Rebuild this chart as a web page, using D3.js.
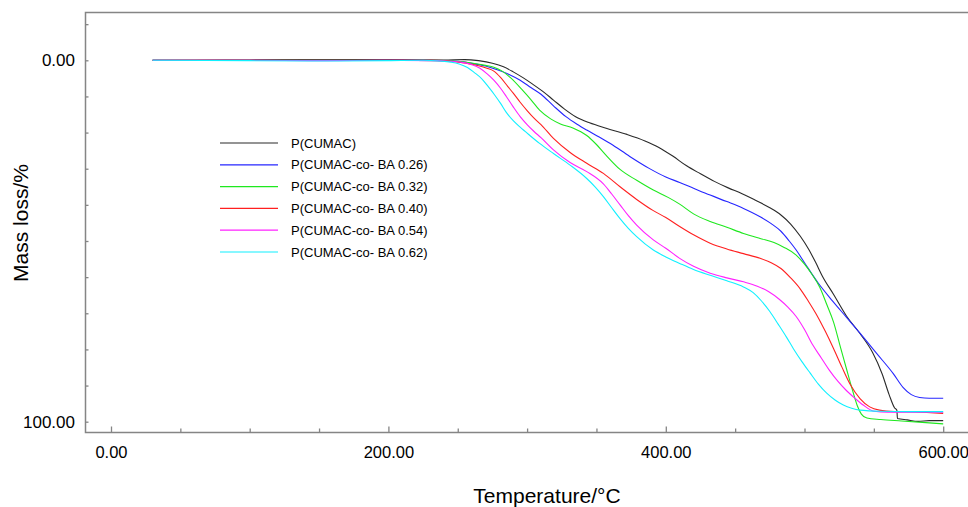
<!DOCTYPE html>
<html>
<head>
<meta charset="utf-8">
<script src="https://cdn.jsdelivr.net/npm/d3@7"></script>
<style>
  body { margin: 0; background: #fff; }
  text { font-family: "Liberation Sans", Arial, sans-serif; fill: #000; }
</style>
</head>
<body>
<div id="chart"></div>
<script>
// TGA curves: [temperature °C, mass loss %]
const seriesNames = ["P(CUMAC)", "P(CUMAC-co- BA 0.26)", "P(CUMAC-co- BA 0.32)",
  "P(CUMAC-co- BA 0.40)", "P(CUMAC-co- BA 0.54)", "P(CUMAC-co- BA 0.62)"];
const seriesColors = ["#2a2a2a", "#2626ff", "#1fe81f", "#ff2020", "#ff22ff", "#10f0ff"];

const cumac = [[30,0],[60,0],[100,-0.1],[150,-0.2],[200,-0.2],[240,-0.1],[255,-0.2],[265,0.1],[275,0.8],
  [283,1.8],[290,3.2],[297,4.8],[304,6.6],[312,8.8],[319,11.0],[327,13.5],[335,15.6],[345,17.3],[357,18.8],
  [372,20.5],[385,22.3],[395,24.1],[405,26.5],[415,29.2],[425,31.4],[435,33.5],[445,35.3],[455,36.9],
  [465,38.8],[475,40.8],[483,42.8],[490,45.3],[497,48.7],[503,52.3],[508,55.9],[513,59.8],[521,64.8],
  [530,70.6],[540,75.6],[549,80.8],[556,86.8],[561,92.5],[565,96.2],[566.6,96.8],[567,99.1],[574,99.5],
  [582,99.9],[590,99.7],[600,99.7]];
const ba026 = [[30,0],[100,0],[150,0],[200,0],[240,0.1],[250,0.3],[261,0.9],[270,1.6],[279,2.7],[287,3.9],
  [295,5.5],[303,7.6],[310,9.4],[319,12.6],[328,15.6],[336,17.7],[343,19.3],[352,21.2],[360,23.0],[374,26.6],
  [388,29.9],[400,32.3],[410,33.8],[420,35.4],[432,37.3],[444,39.1],[456,41.0],[468,43.3],[476,45.2],
  [483,47.3],[489,50.0],[494,52.5],[500,56.0],[510,61.7],[520,66.5],[530,71.0],[540,75.5],[552,81.1],
  [564,86.7],[571,90.5],[577,92.5],[583,93.3],[590,93.5],[600,93.5]];
const ba032 = [[30,0],[100,0],[150,0],[200,0],[240,0.1],[250,0.3],[261,0.8],[270,1.4],[276,1.9],[282,3.0],
  [288,4.8],[297,8.4],[303,11.0],[309,13.8],[317,16.2],[324,17.6],[333,18.7],[343,20.8],[350,23.3],
  [357,26.3],[367,30.2],[379,33.2],[391,35.9],[402,38.0],[410,39.8],[420,42.5],[432,44.6],[444,46.2],
  [456,47.9],[468,49.3],[478,50.4],[485,51.7],[494,53.9],[500,56.4],[505,59.0],[511,62.8],[516,67.5],
  [521,72.5],[526,79.5],[530,85.0],[534,90.5],[538,95.5],[541,97.9],[545,99.0],[555,99.4],[570,99.8],
  [585,100.2],[600,100.6]];
const ba040 = [[30,0],[100,0],[150,0],[200,0],[230,0.0],[240,0.1],[256,0.8],[265,1.5],[271,2.2],[276,3.0],
  [281,4.8],[286,7.2],[290,9.1],[295,11.6],[300,13.9],[305,16.0],[310,17.8],[319,21.6],[331,25.5],
  [343,28.5],[355,31.3],[367,35.0],[379,38.5],[391,41.6],[400,43.5],[410,46.0],[420,48.3],[432,50.6],
  [444,52.2],[456,53.5],[468,54.8],[476,56.0],[483,57.6],[490,60.2],[497,63.3],[503,66.8],[509,70.6],
  [515,75.0],[521,79.8],[527,84.9],[533,89.7],[540,93.6],[547,95.9],[554,96.8],[565,97.2],[580,97.3],
  [600,97.7]];
const ba054 = [[30,0],[100,0],[150,0.1],[200,0],[235,0.1],[245,0.3],[252,0.5],[260,1.2],[266,2.2],[271,3.7],
  [276,5.5],[281,7.8],[285,10.0],[290,12.9],[295,15.6],[300,17.8],[305,19.7],[310,21.4],[319,24.8],
  [331,28.3],[343,30.8],[355,34.2],[361,37.0],[367,40.0],[373,43.0],[379,45.6],[391,49.7],[400,52.0],
  [410,54.8],[420,57.0],[432,58.9],[444,60.2],[456,61.3],[466,62.5],[474,64.0],[482,66.2],[488,68.3],
  [494,70.9],[500,74.5],[506,78.8],[512,82.3],[518,85.8],[524,88.8],[530,91.3],[536,93.4],[542,95.3],
  [550,97.1],[560,97.4],[580,97.4],[600,97.4]];
const ba062 = [[30,0],[100,0.1],[150,0.2],[200,0.1],[225,0.0],[237,0.2],[245,0.5],[251,1.0],[257,2.0],
  [262,3.4],[267,5.0],[272,7.3],[277,9.8],[281,12.0],[285,14.4],[290,16.7],[295,18.5],[302,20.8],
  [309,23.0],[319,25.8],[331,29.0],[343,32.7],[349,35.0],[355,37.7],[361,40.8],[367,43.8],[373,46.5],
  [379,48.8],[391,52.5],[400,54.4],[410,56.2],[420,57.9],[432,59.5],[444,61.0],[456,62.7],[463,64.3],
  [469,66.6],[475,69.5],[481,73.0],[487,76.6],[492,79.8],[498,83.3],[504,86.5],[510,89.6],[516,92.1],
  [522,94.0],[528,95.4],[534,96.3],[540,96.8],[555,97.1],[575,97.2],[600,97.2]];

const seriesData = [cumac, ba026, ba032, ba040, ba054, ba062];

const xTickValues = d3.range(0, 601, 50);
const xLabelValues = [0, 200, 400, 600];
const yTickValues = d3.range(-10, 101, 10);
const yLabelValues = [0, 100];

const width = 968, height = 507;
const frame = {left: 85.5, top: 12.5, bottom: 432.5, right: 968};

const svg = d3.select("#chart")
  .append("svg")
    .attr("width", width)
    .attr("height", height);

const x = d3.scaleLinear().domain([0, 600]).range([111, 943.2]);
const y = d3.scaleLinear().domain([0, 100]).range([60.3, 421.7]);

// frame (open on the right)
svg.append("path")
  .attr("d", `M${frame.right},${frame.top}H${frame.left}V${frame.bottom}H${frame.right}`)
  .attr("fill", "none")
  .attr("stroke", "#858585")
  .attr("stroke-width", 1.5);

// x axis
const xAxis = svg.append("g")
  .attr("transform", `translate(0,${frame.bottom})`)
  .call(d3.axisBottom(x)
    .tickValues(xTickValues)
    .tickSize(-4)
    .tickPadding(13.5)
    .tickFormat(d => xLabelValues.includes(d) ? d.toFixed(2) : ""));
xAxis.select(".domain").remove();
xAxis.selectAll(".tick line").attr("stroke", "#858585").attr("stroke-width", 1.3)
  .attr("y2", d => xLabelValues.includes(d) ? -6 : -4);
xAxis.selectAll("text").attr("font-size", 16.5).attr("fill", "#000");

// y axis
const yAxis = svg.append("g")
  .attr("transform", `translate(${frame.left},0)`)
  .call(d3.axisLeft(y)
    .tickValues(yTickValues)
    .tickSize(-3)
    .tickPadding(10.5)
    .tickFormat(d => yLabelValues.includes(d) ? d.toFixed(2) : ""));
yAxis.select(".domain").remove();
yAxis.selectAll(".tick line").attr("stroke", "#858585").attr("stroke-width", 1.3);
yAxis.selectAll("text").attr("font-size", 17).attr("fill", "#000");

// axis titles
svg.append("text")
  .attr("x", 547)
  .attr("y", 503)
  .attr("text-anchor", "middle")
  .attr("font-size", 21)
  .text("Temperature/°C");

svg.append("text")
  .attr("transform", "translate(28,223) rotate(-90)")
  .attr("text-anchor", "middle")
  .attr("font-size", 21)
  .text("Mass loss/%");

// curves
const line = d3.line()
  .x(d => x(d[0]))
  .y(d => y(d[1]))
  .curve(d3.curveMonotoneX);

svg.selectAll(".curve")
  .data(seriesData)
  .enter()
  .append("path")
    .attr("class", "curve")
    .attr("fill", "none")
    .attr("stroke", (d, i) => seriesColors[i])
    .attr("stroke-width", 1.1)
    .attr("d", line);

// legend
const legendTop = 143, legendStep = 21.8;
const legend = svg.selectAll(".legend")
  .data(seriesNames)
  .enter()
  .append("g")
    .attr("class", "legend")
    .attr("transform", (d, i) => `translate(220,${legendTop + i * legendStep})`);

legend.append("line")
  .attr("x1", 0).attr("x2", 58)
  .attr("y1", 0).attr("y2", 0)
  .attr("stroke", (d, i) => seriesColors[i])
  .attr("stroke-width", 1.2);

legend.append("text")
  .attr("x", 71)
  .attr("y", 4.5)
  .attr("font-size", 13)
  .text(d => d);
</script>
</body>
</html>
